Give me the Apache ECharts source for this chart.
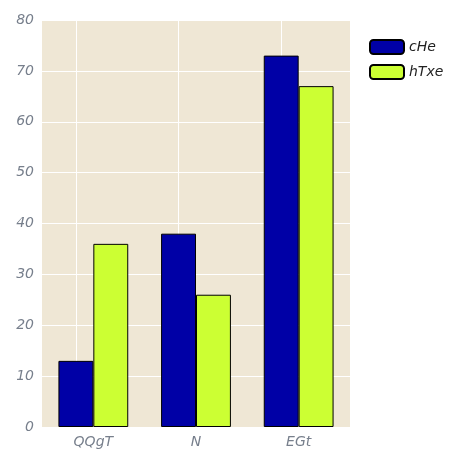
<!DOCTYPE html>
<html>
<head>
<meta charset="utf-8">
<script src="https://cdn.jsdelivr.net/npm/echarts@6/dist/echarts.min.js"></script>
<style>html,body{margin:0;padding:0;background:#fff}#chart{width:468px;height:468px}</style>
</head>
<body>
<div id="chart"></div>
<script>
const categories = ['QQgT', 'N', 'EGt'];
const cHe = [13, 38, 73];
const hTxe = [36, 26, 67];
const yTicks = [0, 10, 20, 30, 40, 50, 60, 70, 80];

const chart = echarts.init(document.getElementById('chart'));
const labelStyle = { color: '#777f8c', fontStyle: 'italic', fontSize: 14, fontFamily: 'DejaVu Sans' };
const option = {
    animation: false,
    grid: { left: 42, right: 118, top: 20, bottom: 41, backgroundColor: '#efe7d5', show: true, borderWidth: 0 },
    legend: {
        data: ['cHe', 'hTxe'],
        orient: 'vertical',
        left: 364, top: 34,
        itemWidth: 34, itemHeight: 14, itemGap: 9,
        textStyle: { color: '#222', fontStyle: 'italic', fontSize: 14, fontFamily: 'DejaVu Sans' }
    },
    xAxis: {
        type: 'category',
        data: categories,
        axisLine: { show: false },
        axisTick: { show: false },
        axisLabel: labelStyle
    },
    yAxis: {
        type: 'value',
        min: yTicks[0], max: yTicks[yTicks.length - 1], interval: 10,
        axisLine: { show: false },
        axisTick: { show: false },
        axisLabel: labelStyle,
        splitLine: { lineStyle: { color: '#ffffff', width: 1 } }
    },
    series: [
        {
            name: 'cHe', type: 'bar', data: cHe,
            barGap: '0%', barCategoryGap: '32%',
            itemStyle: { color: '#0000a6', borderColor: '#000', borderWidth: 1 },
            markLine: {
                silent: true, symbol: 'none', z: 1,
                label: { show: false },
                lineStyle: { color: '#ffffff', type: 'solid', width: 1 },
                data: categories.map(c => ({ xAxis: c }))
            }
        },
        {
            name: 'hTxe', type: 'bar', data: hTxe,
            itemStyle: { color: '#ccff33', borderColor: '#000', borderWidth: 1 }
        }
    ]
};
chart.setOption(option);
</script>
</body>
</html>
